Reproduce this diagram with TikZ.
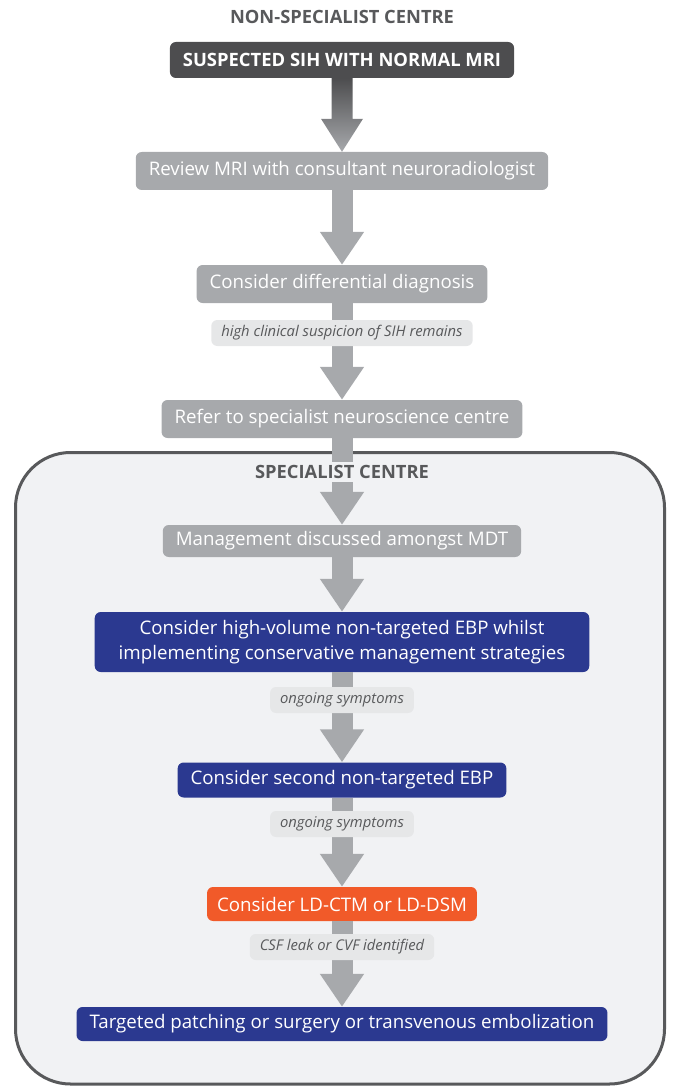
\documentclass[tikz,border=0pt]{standalone}
\usepackage{fontspec}
\setmainfont{Open Sans}
\usepackage{tikz}
\usetikzlibrary{positioning, arrows.meta, calc, shapes}
\definecolor{grisOscuro}{RGB}{77, 77, 79}
\definecolor{gris}{RGB}{167, 169, 172}
\definecolor{grisClaro}{RGB}{230, 231, 232}
\definecolor{texto}{RGB}{88, 89, 91}
\definecolor{fondo}{RGB}{241, 242, 244}
\definecolor{azul}{RGB}{43, 57, 144}
\definecolor{naranja}{RGB}{241, 90, 41}
\tikzset{
    base/.style={rectangle, rounded corners=6pt, text=white, inner xsep=13pt, minimum height=36pt, font=\fontsize{18.7}{25}\selectfont},
    cajaOsc/.style={base, fill=grisOscuro, font=\bfseries\fontsize{18.4}{20}\selectfont},
    cajaGris/.style={base, fill=gris, minimum height=38pt},
    cajaAzul/.style={base, fill=azul, align=center, minimum height=34pt},
    cajaNar/.style={base, fill=naranja, minimum height=34pt, inner xsep=10pt},
    nota/.style={rectangle, rounded corners=6pt, fill=grisClaro, text=texto, font=\itshape\fontsize{14.8}{17}\selectfont, minimum height=26pt, inner xsep=10pt},
    titulo/.style={text=texto, font=\bfseries\fontsize{18.3}{20}\selectfont},
    conn/.style={draw=gris, line width=21pt, -{Triangle[width=42pt, length=33pt]}},
}
\begin{document}
\begin{tikzpicture}[x=1pt, y=1pt]
        \useasboundingbox (0,0) rectangle (677,-1086);

        \draw[line width=3pt, draw=texto, fill=fondo, rounded corners=55pt] (15.5,-452.5) rectangle (664.5,-1084);

        \node[titulo] (t1) at (342,-17) {NON-SPECIALIST CENTRE};
        \node[cajaOsc] (b1) at (342,-60) {SUSPECTED SIH WITH NORMAL MRI};
        \node[cajaGris] (b2) at (342,-171) {Review MRI with consultant neuroradiologist};
        \node[cajaGris] (b3) at (342,-284) {Consider differential diagnosis};
        \node[cajaGris] (b4) at (342,-419) {Refer to specialist neuroscience centre};
        \node[cajaGris, minimum height=32pt] (b5) at (342,-541) {Management discussed amongst MDT};
        \node[cajaAzul, minimum height=60pt, inner xsep=24pt] (b6) at (342,-642) {Consider high-volume non-targeted EBP whilst\\implementing conservative management strategies};
        \node[cajaAzul, minimum height=35pt] (b7) at (342,-780) {Consider second non-targeted EBP};
        \node[cajaNar] (b8) at (342,-904) {Consider LD-CTM or LD-DSM};
        \node[cajaAzul] (b9) at (342,-1024) {Targeted patching or surgery or transvenous embolization};

        \shade[top color=grisOscuro, bottom color=gris]
            ($(b1.south)+(-10.5,0)$) -- ($(b2.north)+(-10.5,33)$) -- ($(b2.north)+(-21,33)$)
            -- (b2.north) -- ($(b2.north)+(21,33)$) -- ($(b2.north)+(10.5,33)$)
            -- ($(b1.south)+(10.5,0)$) -- cycle;
        \draw[conn] (b2) -- (b3);
        \draw[conn] (b3) -- (b4);
        \draw[conn] (b4) -- (b5);
        \draw[conn] (b5) -- (b6);
        \draw[conn] (b6) -- (b7);
        \draw[conn] (b7) -- (b8);
        \draw[conn] (b8) -- (b9);

        \node[titulo, fill=fondo] (t2) at (342,-472) {SPECIALIST CENTRE};
        \node[nota] (n1) at (342,-333) {high clinical suspicion of SIH remains};
        \node[nota] (n2) at (342,-700) {ongoing symptoms};
        \node[nota] (n3) at (342,-824) {ongoing symptoms};
        \node[nota] (n4) at (342,-947) {CSF leak or CVF identified};
    \end{tikzpicture}
\end{document}
